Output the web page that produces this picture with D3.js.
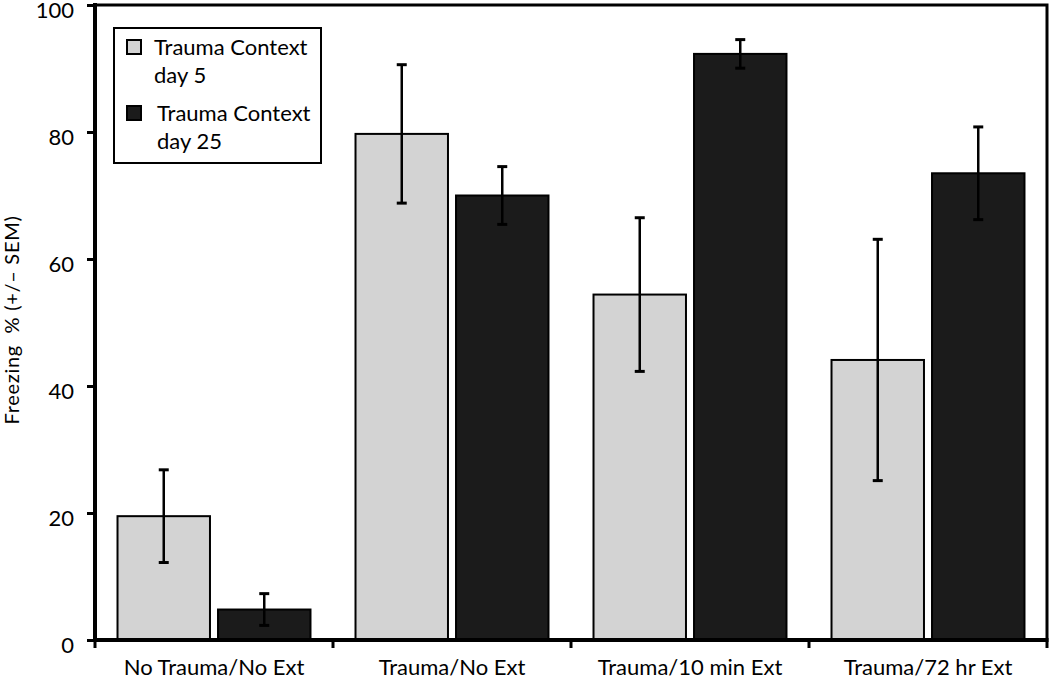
<!DOCTYPE html>
<html>
<head>
<meta charset="utf-8">
<script src="https://cdn.jsdelivr.net/npm/d3@7"></script>
<style>
  html, body { margin: 0; padding: 0; background: #fff; }
  svg { display: block; font-family: Lato, "Open Sans", sans-serif; }
</style>
</head>
<body>
<svg id="chart" width="1050" height="681"></svg>
<script>
const categories = ["No Trauma/No Ext", "Trauma/No Ext", "Trauma/10 min Ext", "Trauma/72 hr Ext"];
const seriesNames = ["Trauma Context day 5", "Trauma Context day 25"];
const day5Values = [19.5, 79.7, 54.4, 44.1];
const day5Sem = [7.3, 10.9, 12.1, 19.0];
const day25Values = [4.8, 70.0, 92.3, 73.5];
const day25Sem = [2.5, 4.55, 2.25, 7.3];
const yTicks = [0, 20, 40, 60, 80, 100];
const yLabel = "Freezing  % (+/\u2013 SEM)";

const colors = ["#d3d3d3", "#1b1b1b"];

const svg = d3.select("#chart");
const margin = { left: 95, right: 3, top: 5, bottom: 41 };
const W = 1050, H = 681;

const x0 = d3.scaleBand().domain(categories).range([margin.left, W - margin.right]).paddingInner(0).paddingOuter(0);
const x1 = d3.scaleBand().domain([0, 1]).range([0, x0.bandwidth()]).paddingInner(0.08).paddingOuter(0.224);
const y = d3.scaleLinear().domain([0, 100]).range([H - margin.bottom, margin.top]);

const rows = categories.map((c, i) => ({
  cat: c,
  vals: [
    { s: 0, v: day5Values[i], e: day5Sem[i] },
    { s: 1, v: day25Values[i], e: day25Sem[i] }
  ]
}));

// frame (top & right)
svg.append("path")
  .attr("d", `M${x0.range()[0]},${y(100)} H${x0.range()[1]} V${y(0)}`)
  .attr("fill", "none").attr("stroke", "#000").attr("stroke-width", 3);

// bars
const g = svg.append("g").selectAll("g").data(rows).join("g")
  .attr("transform", d => `translate(${x0(d.cat)},0)`);

g.selectAll("rect").data(d => d.vals).join("rect")
  .attr("x", d => x1(d.s))
  .attr("width", x1.bandwidth())
  .attr("y", d => y(d.v))
  .attr("height", d => y(0) - y(d.v))
  .attr("fill", d => colors[d.s])
  .attr("stroke", "#000")
  .attr("stroke-width", 2);

// error bars
const eb = g.selectAll("g.err").data(d => d.vals).join("g").attr("class", "err");
eb.append("line")
  .attr("x1", d => x1(d.s) + x1.bandwidth() / 2)
  .attr("x2", d => x1(d.s) + x1.bandwidth() / 2)
  .attr("y1", d => y(d.v + d.e))
  .attr("y2", d => y(d.v - d.e))
  .attr("stroke", "#000").attr("stroke-width", 2.5);
eb.selectAll("line.cap").data(d => [{ d, t: d.v + d.e }, { d, t: d.v - d.e }]).join("line")
  .attr("class", "cap")
  .attr("x1", o => x1(o.d.s) + x1.bandwidth() / 2 - 5)
  .attr("x2", o => x1(o.d.s) + x1.bandwidth() / 2 + 5)
  .attr("y1", o => y(o.t))
  .attr("y2", o => y(o.t))
  .attr("stroke", "#000").attr("stroke-width", 3);

// y axis
const yAxis = svg.append("g")
  .attr("transform", `translate(${margin.left},0)`)
  .call(d3.axisLeft(y).tickValues(yTicks).tickSize(8).tickPadding(13).tickSizeOuter(0));
yAxis.select(".domain").attr("stroke-width", 4).attr("d", `M0,${y(100) - 2}V${y(0) + 2}`);
yAxis.selectAll(".tick line").attr("stroke-width", 3);
yAxis.selectAll(".tick text").attr("font-size", 22).attr("font-family", "Lato").attr("fill", "#000")
  .attr("dy", "0.56em");

// x axis
const xTickPos = d3.range(categories.length + 1).map(i => margin.left + i * x0.bandwidth());
const xAxis = svg.append("g").attr("transform", `translate(0,${y(0)})`);
xAxis.append("line")
  .attr("x1", margin.left - 2).attr("x2", x0.range()[1] + 1.5)
  .attr("stroke", "#000").attr("stroke-width", 4);
xAxis.selectAll("line.t").data(xTickPos).join("line").attr("class", "t")
  .attr("x1", d => d).attr("x2", d => d).attr("y1", 0).attr("y2", 8)
  .attr("stroke", "#000").attr("stroke-width", 3);
xAxis.selectAll("text").data(categories).join("text")
  .attr("x", d => x0(d) + x0.bandwidth() / 2)
  .attr("y", 35)
  .attr("text-anchor", "middle")
  .attr("font-size", 22)
  .text(d => d);

// y label
svg.append("text")
  .attr("transform", `translate(19,320) rotate(-90)`)
  .attr("text-anchor", "middle")
  .attr("font-size", 20)
  .attr("letter-spacing", 0.7)
  .style("white-space", "pre")
  .text(yLabel);

// legend
const lg = svg.append("g").attr("transform", "translate(114,28)");
lg.append("rect").attr("width", 207).attr("height", 135)
  .attr("fill", "#fff").attr("stroke", "#000").attr("stroke-width", 2);
const items = lg.selectAll("g.item").data(seriesNames).join("g").attr("class", "item")
  .attr("transform", (d, i) => `translate(0,${i * 66})`);
items.append("rect").attr("x", 13).attr("y", 12).attr("width", 14).attr("height", 14)
  .attr("fill", (d, i) => colors[i]).attr("stroke", "#000").attr("stroke-width", 2);
const tx = items.append("text").attr("font-size", 22);
tx.append("tspan").attr("x", (d, i) => 40 + i * 3).attr("y", 27).text(d => d.split(" ").slice(0, 2).join(" "));
tx.append("tspan").attr("x", (d, i) => 40 + i * 3).attr("y", 55).text(d => d.split(" ").slice(2).join(" "));
</script>
</body>
</html>
